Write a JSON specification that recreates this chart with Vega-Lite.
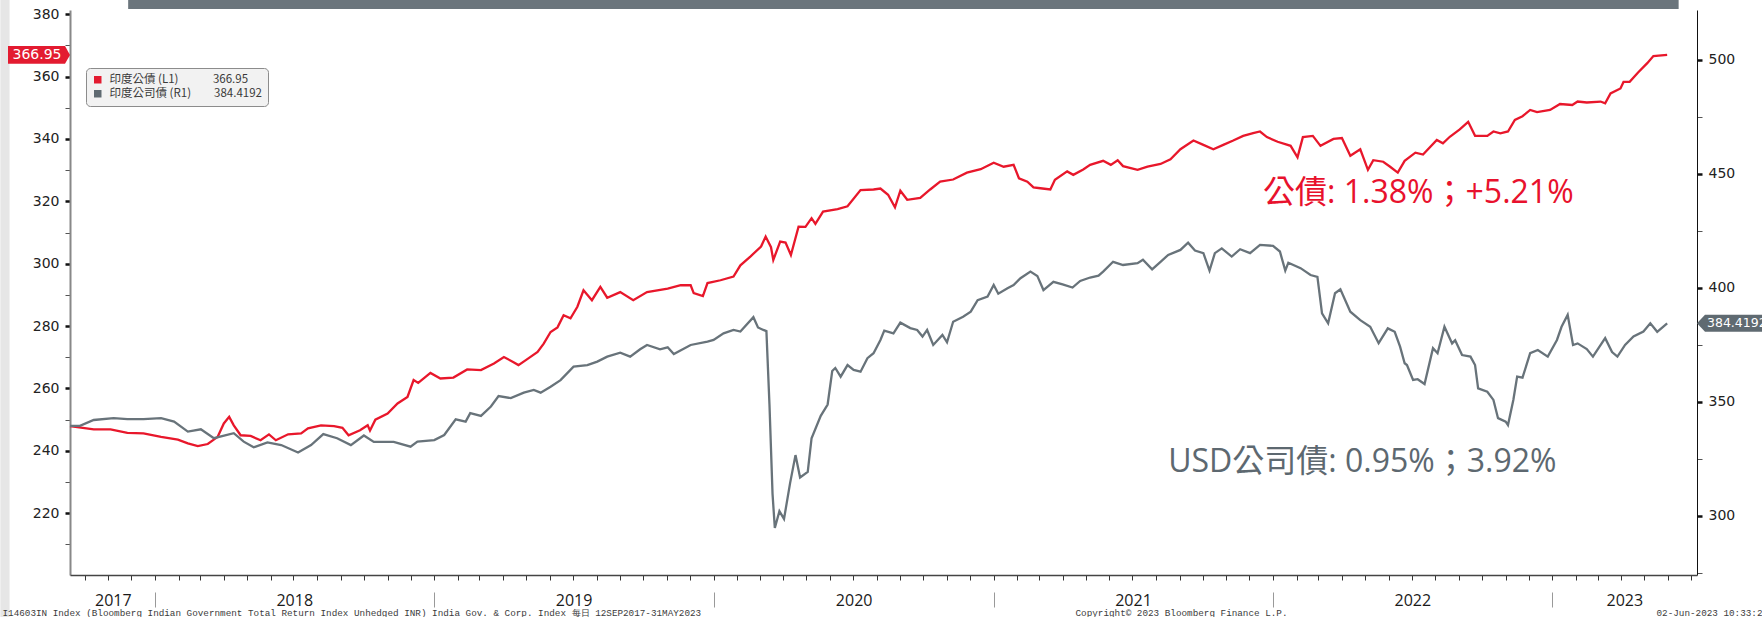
{
"$schema": "https://vega.github.io/schema/vega-lite/v6.json",
"width": 1627, "height": 565,
"autosize": {"type": "none"},
"padding": {"left": 70, "top": 10, "right": 65, "bottom": 42},
"background": "white",
"config": {"view": {"stroke": null}, "axis": {"grid": false}},
"datasets": {
"gov": [{"d":"2017-09-12","v":247.9},{"d":"2017-10-13","v":246.9},{"d":"2017-11-04","v":246.9},{"d":"2017-11-26","v":245.8},{"d":"2017-12-17","v":245.6},{"d":"2018-01-09","v":244.5},{"d":"2018-01-31","v":243.6},{"d":"2018-02-13","v":242.4},{"d":"2018-02-26","v":241.5},{"d":"2018-03-11","v":242.2},{"d":"2018-03-24","v":244.5},{"d":"2018-04-01","v":248.8},{"d":"2018-04-08","v":250.9},{"d":"2018-04-14","v":248.2},{"d":"2018-04-23","v":245.0},{"d":"2018-05-06","v":244.8},{"d":"2018-05-19","v":243.4},{"d":"2018-05-30","v":245.3},{"d":"2018-06-08","v":243.4},{"d":"2018-06-24","v":245.3},{"d":"2018-07-11","v":245.6},{"d":"2018-07-20","v":247.2},{"d":"2018-08-06","v":248.2},{"d":"2018-08-23","v":247.9},{"d":"2018-09-03","v":247.4},{"d":"2018-09-11","v":245.0},{"d":"2018-09-26","v":246.6},{"d":"2018-10-06","v":248.2},{"d":"2018-10-09","v":246.5},{"d":"2018-10-16","v":250.0},{"d":"2018-11-01","v":252.0},{"d":"2018-11-14","v":255.2},{"d":"2018-11-27","v":257.3},{"d":"2018-12-05","v":262.7},{"d":"2018-12-11","v":261.8},{"d":"2018-12-27","v":265.0},{"d":"2019-01-09","v":263.2},{"d":"2019-01-26","v":263.5},{"d":"2019-02-13","v":266.1},{"d":"2019-03-03","v":265.9},{"d":"2019-03-20","v":268.0},{"d":"2019-04-02","v":270.1},{"d":"2019-04-14","v":268.5},{"d":"2019-04-21","v":267.5},{"d":"2019-05-03","v":269.5},{"d":"2019-05-16","v":271.7},{"d":"2019-05-24","v":274.4},{"d":"2019-06-02","v":278.1},{"d":"2019-06-11","v":279.6},{"d":"2019-06-19","v":283.5},{"d":"2019-06-28","v":282.5},{"d":"2019-07-07","v":286.2},{"d":"2019-07-15","v":291.5},{"d":"2019-07-26","v":288.3},{"d":"2019-08-06","v":292.6},{"d":"2019-08-15","v":289.1},{"d":"2019-09-01","v":290.9},{"d":"2019-09-18","v":288.3},{"d":"2019-10-06","v":290.9},{"d":"2019-11-02","v":292.0},{"d":"2019-11-19","v":293.1},{"d":"2019-12-02","v":293.1},{"d":"2019-12-06","v":290.6},{"d":"2019-12-18","v":289.6},{"d":"2019-12-24","v":293.8},{"d":"2020-01-10","v":294.7},{"d":"2020-01-27","v":295.9},{"d":"2020-02-05","v":299.5},{"d":"2020-02-18","v":302.3},{"d":"2020-03-03","v":305.5},{"d":"2020-03-09","v":308.7},{"d":"2020-03-16","v":305.3},{"d":"2020-03-19","v":301.2},{"d":"2020-03-28","v":307.1},{"d":"2020-04-04","v":306.8},{"d":"2020-04-11","v":302.8},{"d":"2020-04-21","v":311.9},{"d":"2020-04-30","v":311.8},{"d":"2020-05-08","v":314.6},{"d":"2020-05-13","v":312.8},{"d":"2020-05-23","v":316.7},{"d":"2020-06-11","v":317.5},{"d":"2020-06-24","v":318.4},{"d":"2020-07-11","v":323.6},{"d":"2020-07-28","v":323.8},{"d":"2020-08-06","v":324.1},{"d":"2020-08-16","v":322.1},{"d":"2020-08-25","v":318.1},{"d":"2020-09-01","v":323.4},{"d":"2020-09-10","v":320.5},{"d":"2020-09-27","v":321.1},{"d":"2020-10-10","v":323.8},{"d":"2020-10-23","v":326.3},{"d":"2020-11-09","v":327.0},{"d":"2020-11-27","v":329.2},{"d":"2020-12-15","v":330.3},{"d":"2021-01-01","v":332.4},{"d":"2021-01-14","v":331.1},{"d":"2021-01-27","v":331.7},{"d":"2021-02-03","v":327.4},{"d":"2021-02-14","v":326.3},{"d":"2021-02-22","v":324.5},{"d":"2021-03-03","v":324.2},{"d":"2021-03-16","v":323.8},{"d":"2021-03-22","v":326.9},{"d":"2021-04-07","v":329.6},{"d":"2021-04-15","v":328.5},{"d":"2021-04-28","v":330.2},{"d":"2021-05-07","v":331.7},{"d":"2021-05-24","v":333.0},{"d":"2021-06-03","v":331.7},{"d":"2021-06-12","v":333.2},{"d":"2021-06-19","v":331.3},{"d":"2021-07-08","v":330.1},{"d":"2021-07-21","v":331.1},{"d":"2021-08-07","v":332.0},{"d":"2021-08-20","v":333.5},{"d":"2021-09-02","v":336.7},{"d":"2021-09-19","v":339.5},{"d":"2021-10-02","v":338.1},{"d":"2021-10-15","v":336.7},{"d":"2021-10-28","v":338.1},{"d":"2021-11-10","v":339.5},{"d":"2021-11-23","v":341.0},{"d":"2021-12-06","v":341.9},{"d":"2021-12-15","v":342.4},{"d":"2021-12-24","v":340.6},{"d":"2022-01-07","v":339.1},{"d":"2022-01-24","v":337.8},{"d":"2022-02-02","v":334.1},{"d":"2022-02-09","v":340.6},{"d":"2022-02-22","v":341.0},{"d":"2022-03-04","v":337.8},{"d":"2022-03-21","v":340.0},{"d":"2022-04-01","v":340.3},{"d":"2022-04-12","v":334.6},{"d":"2022-04-25","v":336.7},{"d":"2022-05-05","v":330.1},{"d":"2022-05-12","v":333.2},{"d":"2022-05-25","v":332.7},{"d":"2022-06-03","v":331.1},{"d":"2022-06-13","v":329.2},{"d":"2022-06-22","v":333.0},{"d":"2022-07-06","v":335.6},{"d":"2022-07-16","v":335.0},{"d":"2022-08-03","v":339.7},{"d":"2022-08-11","v":338.6},{"d":"2022-08-20","v":340.7},{"d":"2022-09-02","v":343.1},{"d":"2022-09-13","v":345.5},{"d":"2022-09-22","v":341.0},{"d":"2022-10-08","v":341.0},{"d":"2022-10-16","v":342.4},{"d":"2022-10-25","v":341.8},{"d":"2022-11-04","v":342.4},{"d":"2022-11-13","v":346.1},{"d":"2022-11-23","v":347.3},{"d":"2022-12-03","v":349.3},{"d":"2022-12-12","v":348.6},{"d":"2022-12-29","v":349.3},{"d":"2023-01-11","v":351.2},{"d":"2023-01-27","v":350.9},{"d":"2023-02-03","v":352.0},{"d":"2023-02-15","v":351.7},{"d":"2023-03-05","v":352.0},{"d":"2023-03-11","v":351.4},{"d":"2023-03-18","v":354.6},{"d":"2023-03-31","v":356.2},{"d":"2023-04-04","v":358.3},{"d":"2023-04-12","v":358.3},{"d":"2023-04-23","v":361.3},{"d":"2023-05-05","v":364.3},{"d":"2023-05-13","v":366.6},{"d":"2023-05-31","v":366.95}],
"corp": [{"d":"2017-09-12","v":339.4},{"d":"2017-09-25","v":339.4},{"d":"2017-10-13","v":342.0},{"d":"2017-11-08","v":342.8},{"d":"2017-11-26","v":342.4},{"d":"2017-12-17","v":342.4},{"d":"2018-01-09","v":342.8},{"d":"2018-01-26","v":341.3},{"d":"2018-02-13","v":336.9},{"d":"2018-03-02","v":337.9},{"d":"2018-03-19","v":334.0},{"d":"2018-04-14","v":336.2},{"d":"2018-04-27","v":332.5},{"d":"2018-05-10","v":330.0},{"d":"2018-05-28","v":332.2},{"d":"2018-06-15","v":331.0},{"d":"2018-07-07","v":327.7},{"d":"2018-07-24","v":331.0},{"d":"2018-08-09","v":335.8},{"d":"2018-08-27","v":334.0},{"d":"2018-09-14","v":331.0},{"d":"2018-10-01","v":335.2},{"d":"2018-10-14","v":332.4},{"d":"2018-11-09","v":332.4},{"d":"2018-12-01","v":330.3},{"d":"2018-12-10","v":332.5},{"d":"2019-01-01","v":333.2},{"d":"2019-01-14","v":335.4},{"d":"2019-01-29","v":342.3},{"d":"2019-02-11","v":341.3},{"d":"2019-02-17","v":345.0},{"d":"2019-03-03","v":343.8},{"d":"2019-03-16","v":347.9},{"d":"2019-03-26","v":352.5},{"d":"2019-04-11","v":351.6},{"d":"2019-04-28","v":354.0},{"d":"2019-05-11","v":355.2},{"d":"2019-05-20","v":354.0},{"d":"2019-06-02","v":356.6},{"d":"2019-06-15","v":359.5},{"d":"2019-07-02","v":365.4},{"d":"2019-07-20","v":366.1},{"d":"2019-08-02","v":367.6},{"d":"2019-08-15","v":369.8},{"d":"2019-09-01","v":371.5},{"d":"2019-09-14","v":369.8},{"d":"2019-09-27","v":373.0},{"d":"2019-10-06","v":374.9},{"d":"2019-10-23","v":373.0},{"d":"2019-11-02","v":373.9},{"d":"2019-11-10","v":370.9},{"d":"2019-12-02","v":374.9},{"d":"2019-12-24","v":376.4},{"d":"2020-01-01","v":377.1},{"d":"2020-01-14","v":380.0},{"d":"2020-01-27","v":381.5},{"d":"2020-02-05","v":380.8},{"d":"2020-02-22","v":387.1},{"d":"2020-02-28","v":382.6},{"d":"2020-03-06","v":381.5},{"d":"2020-03-10","v":381.0},{"d":"2020-03-14","v":348.8},{"d":"2020-03-18","v":309.6},{"d":"2020-03-21","v":294.6},{"d":"2020-03-27","v":302.0},{"d":"2020-04-02","v":298.6},{"d":"2020-04-10","v":314.4},{"d":"2020-04-17","v":326.6},{"d":"2020-04-23","v":316.8},{"d":"2020-05-03","v":319.2},{"d":"2020-05-08","v":334.0},{"d":"2020-05-20","v":343.8},{"d":"2020-05-29","v":348.8},{"d":"2020-06-04","v":363.5},{"d":"2020-06-08","v":364.8},{"d":"2020-06-15","v":361.0},{"d":"2020-06-24","v":366.1},{"d":"2020-07-02","v":364.0},{"d":"2020-07-11","v":363.2},{"d":"2020-07-20","v":369.1},{"d":"2020-07-28","v":371.3},{"d":"2020-08-06","v":377.1},{"d":"2020-08-11","v":381.2},{"d":"2020-08-23","v":380.0},{"d":"2020-09-01","v":384.7},{"d":"2020-09-14","v":382.3},{"d":"2020-09-23","v":381.5},{"d":"2020-09-30","v":378.6},{"d":"2020-10-06","v":381.5},{"d":"2020-10-14","v":374.9},{"d":"2020-10-26","v":379.3},{"d":"2020-11-01","v":376.1},{"d":"2020-11-09","v":385.1},{"d":"2020-11-22","v":387.3},{"d":"2020-12-02","v":389.5},{"d":"2020-12-11","v":394.6},{"d":"2020-12-24","v":396.1},{"d":"2021-01-01","v":401.2},{"d":"2021-01-07","v":397.4},{"d":"2021-01-19","v":399.8},{"d":"2021-01-27","v":401.2},{"d":"2021-02-05","v":404.2},{"d":"2021-02-18","v":407.1},{"d":"2021-02-27","v":405.2},{"d":"2021-03-07","v":399.0},{"d":"2021-03-20","v":402.6},{"d":"2021-04-01","v":401.5},{"d":"2021-04-14","v":400.1},{"d":"2021-04-24","v":403.0},{"d":"2021-05-07","v":404.5},{"d":"2021-05-18","v":405.3},{"d":"2021-05-24","v":407.1},{"d":"2021-06-06","v":411.4},{"d":"2021-06-19","v":410.0},{"d":"2021-07-08","v":410.8},{"d":"2021-07-15","v":412.3},{"d":"2021-07-27","v":408.1},{"d":"2021-08-07","v":411.4},{"d":"2021-08-17","v":414.4},{"d":"2021-09-02","v":416.6},{"d":"2021-09-12","v":419.8},{"d":"2021-09-21","v":416.3},{"d":"2021-10-02","v":415.2},{"d":"2021-10-10","v":407.5},{"d":"2021-10-17","v":415.2},{"d":"2021-10-26","v":417.3},{"d":"2021-11-08","v":413.7},{"d":"2021-11-19","v":416.9},{"d":"2021-12-02","v":415.2},{"d":"2021-12-15","v":418.8},{"d":"2022-01-01","v":418.4},{"d":"2022-01-10","v":415.9},{"d":"2022-01-17","v":407.5},{"d":"2022-01-21","v":411.0},{"d":"2022-02-06","v":408.6},{"d":"2022-02-19","v":405.6},{"d":"2022-02-28","v":404.8},{"d":"2022-03-06","v":388.8},{"d":"2022-03-14","v":384.4},{"d":"2022-03-23","v":397.6},{"d":"2022-03-30","v":399.3},{"d":"2022-04-12","v":389.5},{"d":"2022-04-25","v":385.8},{"d":"2022-05-08","v":382.9},{"d":"2022-05-19","v":375.7},{"d":"2022-05-31","v":382.2},{"d":"2022-06-09","v":380.7},{"d":"2022-06-16","v":374.2},{"d":"2022-06-22","v":366.9},{"d":"2022-06-25","v":366.1},{"d":"2022-07-03","v":359.6},{"d":"2022-07-09","v":359.9},{"d":"2022-07-18","v":357.8},{"d":"2022-07-29","v":373.5},{"d":"2022-08-04","v":371.3},{"d":"2022-08-13","v":382.9},{"d":"2022-08-23","v":375.6},{"d":"2022-08-27","v":377.0},{"d":"2022-09-05","v":370.5},{"d":"2022-09-16","v":369.8},{"d":"2022-09-22","v":366.1},{"d":"2022-09-26","v":355.9},{"d":"2022-10-08","v":354.4},{"d":"2022-10-16","v":350.8},{"d":"2022-10-22","v":342.8},{"d":"2022-11-01","v":341.3},{"d":"2022-11-04","v":339.8},{"d":"2022-11-11","v":350.8},{"d":"2022-11-16","v":361.0},{"d":"2022-11-23","v":360.6},{"d":"2022-12-03","v":371.3},{"d":"2022-12-13","v":372.7},{"d":"2022-12-26","v":369.8},{"d":"2023-01-07","v":377.1},{"d":"2023-01-13","v":382.9},{"d":"2023-01-21","v":388.1},{"d":"2023-01-28","v":374.9},{"d":"2023-02-03","v":375.6},{"d":"2023-02-15","v":373.1},{"d":"2023-02-23","v":369.8},{"d":"2023-03-11","v":377.9},{"d":"2023-03-20","v":371.8},{"d":"2023-03-27","v":369.8},{"d":"2023-04-06","v":374.9},{"d":"2023-04-17","v":378.6},{"d":"2023-04-30","v":380.8},{"d":"2023-05-09","v":384.4},{"d":"2023-05-18","v":380.7},{"d":"2023-05-31","v":384.4192}]
},
"resolve": {"scale": {"y": "independent"}, "axis": {"x": "independent", "y": "independent"}},
"layer": [
{"data": {"values": [{}]},
 "mark": {"type": "rect", "color": "#e6e6e6"},
 "encoding": {
  "x": {"datum": {"year": 2017, "month": "jun", "date": 13, "utc": true}, "type": "temporal", "scale": {"type": "utc", "domain": [{"year": 2017, "month": "sep", "date": 12, "utc": true}, {"year": 2023, "month": "jul", "date": 9, "utc": true}]}, "axis": null},
  "x2": {"datum": {"year": 2017, "month": "jun", "date": 25, "utc": true}},
  "y": {"datum": 384.56, "type": "quantitative", "scale": {"domain": [200.2, 381.35], "nice": false, "zero": false}, "axis": null},
  "y2": {"datum": 186.7}}},
{"data": {"values": [{}]},
 "mark": {"type": "rect", "color": "#6b757c"},
 "encoding": {
  "x": {"datum": {"year": 2017, "month": "nov", "date": 27, "utc": true}, "type": "temporal", "scale": {"type": "utc", "domain": [{"year": 2017, "month": "sep", "date": 12, "utc": true}, {"year": 2023, "month": "jul", "date": 9, "utc": true}]},
   "axis": {"orient": "bottom", "zindex": 2, "values": [{"year": 2017, "month": "nov", "date": 7, "utc": true}, {"year": 2018, "month": "jul", "date": 2, "utc": true}, {"year": 2019, "month": "jul", "date": 2, "utc": true}, {"year": 2020, "month": "jul", "date": 2, "utc": true}, {"year": 2021, "month": "jul", "date": 2, "utc": true}, {"year": 2022, "month": "jul", "date": 2, "utc": true}, {"year": 2023, "month": "apr", "date": 5, "utc": true}],
    "labelExpr": "utcFormat(datum.value, '%Y')", "ticks": false, "domain": false, "labelPadding": 17, "labelFont": "Open Sans", "labelFontSize": 16, "labelColor": "#1a1a1a", "labelFlush": false, "labelOverlap": false, "labelBound": false,
    "title": "02-Jun-2023 10:33:28", "titleFont": "Liberation Mono", "titleFontSize": 9.3, "titleFontWeight": "normal", "titleColor": "#3c3c3c", "titleX": 1586, "titleY": 40, "titleAlign": "left", "titleBaseline": "alphabetic", "titleAnchor": "start"}},
  "x2": {"datum": {"year": 2023, "month": "jun", "date": 15, "utc": true}},
  "y": {"datum": 384.56, "type": "quantitative", "scale": {"domain": [200.2, 381.35], "nice": false, "zero": false}, "axis": null},
  "y2": {"datum": 381.67}}},
{"data": {"name": "gov"},
 "mark": {"type": "line", "color": "#e8172b", "strokeWidth": 2.3},
 "encoding": {
  "x": {"field": "d", "type": "temporal", "scale": {"type": "utc", "domain": [{"year": 2017, "month": "sep", "date": 12, "utc": true}, {"year": 2023, "month": "jul", "date": 9, "utc": true}]},
   "axis": {"orient": "bottom", "zindex": 2, "tickCount": {"interval": "month", "step": 1}, "labels": false, "ticks": true, "tickSize": 5, "tickColor": "#333", "tickWidth": 1, "domain": true, "domainColor": "#444", "domainWidth": 1.5,
    "title": "I14603IN Index (Bloomberg Indian Government Total Return Index Unhedged INR) India Gov. & Corp. Index  每日 12SEP2017-31MAY2023", "titleFont": "Liberation Mono", "titleFontSize": 9.3, "titleFontWeight": "normal", "titleColor": "#3c3c3c", "titleX": -68, "titleY": 40, "titleAlign": "left", "titleBaseline": "alphabetic", "titleAnchor": "start"}},
  "y": {"field": "v", "type": "quantitative", "scale": {"domain": [200.2, 381.35], "nice": false, "zero": false},
   "axis": {"orient": "left", "values": [210, 220, 230, 240, 250, 260, 270, 280, 290, 300, 310, 320, 330, 340, 350, 360, 370, 380], "labelExpr": "datum.value % 20 === 0 ? datum.label : ''", "tickSize": 5, "tickWidth": {"condition": {"test": "datum.value % 20 === 0", "value": 2.5}, "value": 1}, "tickColor": {"condition": {"test": "datum.value % 20 === 0", "value": "#111"}, "value": "#555"}, "labelFont": "DejaVu Sans", "labelFontSize": 14, "labelColor": "#222", "labelPadding": 6, "domainColor": "#888", "domainWidth": 2, "title": null}}}},
{"data": {"name": "corp"},
 "mark": {"type": "line", "color": "#68737a", "strokeWidth": 2.3},
 "encoding": {
  "x": {"field": "d", "type": "temporal", "scale": {"type": "utc", "domain": [{"year": 2017, "month": "sep", "date": 12, "utc": true}, {"year": 2023, "month": "jul", "date": 9, "utc": true}]},
   "axis": {"orient": "bottom", "zindex": 2, "tickCount": {"interval": "year", "step": 1}, "labels": false, "domain": false, "offset": 17, "tickSize": 15, "tickColor": "#999", "tickWidth": 1,
    "title": "Copyright© 2023 Bloomberg Finance L.P.", "titleFont": "Liberation Mono", "titleFontSize": 9.3, "titleFontWeight": "normal", "titleColor": "#3c3c3c", "titleX": 1111, "titleY": 23, "titleAlign": "center", "titleBaseline": "alphabetic", "titleAnchor": "start"}},
  "y": {"field": "v", "type": "quantitative", "scale": {"domain": [274.0, 521.85], "nice": false, "zero": false},
   "axis": {"orient": "right", "values": [275, 300, 325, 350, 375, 400, 425, 450, 475, 500], "labelExpr": "datum.value % 50 === 0 ? datum.label : ''", "tickSize": 5, "tickWidth": {"condition": {"test": "datum.value % 50 === 0", "value": 2.5}, "value": 1}, "tickColor": {"condition": {"test": "datum.value % 50 === 0", "value": "#111"}, "value": "#555"}, "labelFont": "DejaVu Sans", "labelFontSize": 14, "labelColor": "#222", "labelPadding": 6, "domainColor": "#111", "domainWidth": 1, "title": null}}}},
{"data": {"values": [{}]},
 "mark": {"type": "text", "text": "公債: 1.38%；+5.21%", "font": "Open Sans, Noto Sans CJK TC", "fontSize": 32, "color": "#e8112d", "align": "left", "baseline": "alphabetic"},
 "encoding": {
  "x": {"datum": {"year": 2021, "month": "dec", "date": 19, "utc": true}, "type": "temporal", "scale": {"type": "utc", "domain": [{"year": 2017, "month": "sep", "date": 12, "utc": true}, {"year": 2023, "month": "jul", "date": 9, "utc": true}]}, "axis": null},
  "y": {"datum": 319.47, "type": "quantitative", "scale": {"domain": [200.2, 381.35], "nice": false, "zero": false}, "axis": null}}},
{"data": {"values": [{}]},
 "mark": {"type": "text", "text": "USD公司債: 0.95%；3.92%", "font": "Open Sans, Noto Sans CJK TC", "fontSize": 32, "color": "#5d6870", "align": "left", "baseline": "alphabetic"},
 "encoding": {
  "x": {"datum": {"year": 2021, "month": "aug", "date": 17, "utc": true}, "type": "temporal", "scale": {"type": "utc", "domain": [{"year": 2017, "month": "sep", "date": 12, "utc": true}, {"year": 2023, "month": "jul", "date": 9, "utc": true}]}, "axis": null},
  "y": {"datum": 233.22, "type": "quantitative", "scale": {"domain": [200.2, 381.35], "nice": false, "zero": false}, "axis": null}}},
{"data": {"name": "gov"},
 "transform": [{"filter": "datum.v === 366.95"}],
 "mark": {"type": "point", "shape": "M0,0L-5,-8.8H-62V8.8H-5Z", "size": 4, "filled": true, "opacity": 1, "strokeWidth": 0},
 "encoding": {
  "x": {"datum": {"year": 2017, "month": "sep", "date": 12, "utc": true}, "type": "temporal", "scale": {"type": "utc", "domain": [{"year": 2017, "month": "sep", "date": 12, "utc": true}, {"year": 2023, "month": "jul", "date": 9, "utc": true}]}, "axis": null},
  "y": {"field": "v", "type": "quantitative", "scale": {"domain": [200.2, 381.35], "nice": false, "zero": false}, "axis": null},
  "fill": {"datum": "印度公債 (L1)　　　366.95", "type": "nominal",
   "scale": {"domain": ["印度公債 (L1)　　　366.95", "印度公司債 (R1)　　384.4192"], "range": ["#e31b30", "#5f6a71"]},
   "legend": {"orient": "none", "legendX": 16, "legendY": 58, "title": null, "symbolType": "square", "symbolSize": 56, "symbolStrokeWidth": 0, "labelFont": "Noto Sans CJK TC", "labelFontSize": 11.5, "labelColor": "#3a3a3a", "fillColor": "#f2f2f2", "strokeColor": "#8c8c8c", "cornerRadius": 4, "padding": 6, "rowPadding": 1, "labelOffset": 6, "labelLimit": 400}}}},
{"data": {"name": "gov"},
 "transform": [{"filter": "datum.v === 366.95"}],
 "mark": {"type": "text", "font": "DejaVu Sans", "fontSize": 14, "color": "white", "align": "center", "baseline": "middle", "dx": -33},
 "encoding": {
  "x": {"datum": {"year": 2017, "month": "sep", "date": 12, "utc": true}, "type": "temporal", "scale": {"type": "utc", "domain": [{"year": 2017, "month": "sep", "date": 12, "utc": true}, {"year": 2023, "month": "jul", "date": 9, "utc": true}]}, "axis": null},
  "y": {"field": "v", "type": "quantitative", "scale": {"domain": [200.2, 381.35], "nice": false, "zero": false}, "axis": null},
  "text": {"field": "v", "type": "quantitative", "format": ".2f"}}},
{"data": {"name": "corp"},
 "transform": [{"filter": "datum.v === 384.4192"}],
 "mark": {"type": "point", "shape": "M0,0L8,-8.5H80V8.5H8Z", "size": 4, "filled": true, "opacity": 1, "strokeWidth": 0},
 "encoding": {
  "x": {"datum": {"year": 2023, "month": "jul", "date": 9, "utc": true}, "type": "temporal", "scale": {"type": "utc", "domain": [{"year": 2017, "month": "sep", "date": 12, "utc": true}, {"year": 2023, "month": "jul", "date": 9, "utc": true}]}, "axis": null},
  "y": {"field": "v", "type": "quantitative", "scale": {"domain": [274.0, 521.85], "nice": false, "zero": false}, "axis": null},
  "fill": {"datum": "印度公司債 (R1)　　384.4192", "type": "nominal"}}},
{"data": {"name": "corp"},
 "transform": [{"filter": "datum.v === 384.4192"}],
 "mark": {"type": "text", "font": "DejaVu Sans", "fontSize": 12.5, "color": "white", "align": "left", "baseline": "middle", "dx": 10},
 "encoding": {
  "x": {"datum": {"year": 2023, "month": "jul", "date": 9, "utc": true}, "type": "temporal", "scale": {"type": "utc", "domain": [{"year": 2017, "month": "sep", "date": 12, "utc": true}, {"year": 2023, "month": "jul", "date": 9, "utc": true}]}, "axis": null},
  "y": {"field": "v", "type": "quantitative", "scale": {"domain": [274.0, 521.85], "nice": false, "zero": false}, "axis": null},
  "text": {"field": "v", "type": "quantitative", "format": ".4f"}}}
]
}
